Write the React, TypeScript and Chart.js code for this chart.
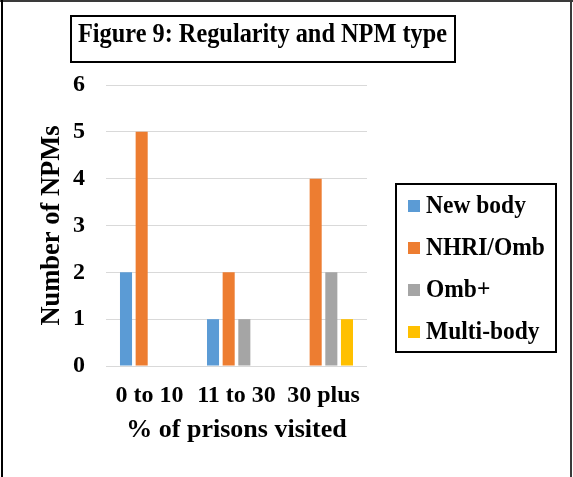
import React, { useEffect, useRef } from "react";
import { Chart, registerables } from "chart.js";

Chart.register(...registerables);

const categories = ["0 to 10", "11 to 30", "30 plus"];
const seriesNames = ["New body", "NHRI/Omb", "Omb+", "Multi-body"];
const newBody = [2, 1, null];
const nhriOmb = [5, 2, 4];
const ombPlus = [null, 1, 2];
const multiBody = [null, null, 1];
const seriesColors = ["#5B9BD5", "#ED7D31", "#A5A5A5", "#FFC000"];
const yTicks = [0, 1, 2, 3, 4, 5, 6];
const chartTitle = "Figure 9: Regularity and NPM type";
const xTitle = "% of prisons visited";
const yTitle = "Number of NPMs";

const FONT = "'Times New Roman', 'Liberation Serif', serif";

const framePlugin = {
  id: "framePlugin",
  afterDraw(chart: any) {
    const ctx = chart.ctx;
    ctx.save();
    // outer frame
    ctx.strokeStyle = "#3a3a3a";
    ctx.lineWidth = 2;
    ctx.beginPath();
    ctx.moveTo(0, 1);
    ctx.lineTo(573, 1);
    ctx.moveTo(571, 0);
    ctx.lineTo(571, 477);
    ctx.stroke();
    ctx.strokeStyle = "#000";
    ctx.beginPath();
    ctx.moveTo(2, 0);
    ctx.lineTo(2, 477);
    ctx.stroke();

    // title box
    ctx.strokeStyle = "#000";
    ctx.lineWidth = 2;
    ctx.strokeRect(71, 16, 384, 46);
    ctx.fillStyle = "#000";
    ctx.font = `bold 28px ${FONT}`;
    const w = ctx.measureText(chartTitle).width;
    ctx.translate(262.5, 35);
    ctx.scale(369 / w, 1);
    ctx.textAlign = "center";
    ctx.textBaseline = "middle";
    ctx.fillText(chartTitle, 0, 0);
    ctx.restore();

    // legend
    ctx.save();
    ctx.strokeStyle = "#000";
    ctx.lineWidth = 2;
    ctx.strokeRect(396, 184, 160, 168);
    ctx.font = `bold 23.5px ${FONT}`;
    ctx.textAlign = "left";
    ctx.textBaseline = "middle";
    chart.data.datasets.forEach((ds: any, i: number) => {
      const cy = 206 + i * 42;
      ctx.fillStyle = ds.backgroundColor;
      ctx.fillRect(408, cy - 6, 12, 12);
      ctx.fillStyle = "#000";
      ctx.save();
      ctx.translate(426, cy);
      ctx.scale(1, 1.08);
      ctx.fillText(ds.label, 0, 0);
      ctx.restore();
    });
    ctx.restore();
  },
};

export default function App() {
  const ref = useRef<HTMLCanvasElement>(null);
  useEffect(() => {
    document.body.style.margin = "0";
    const values = [newBody, nhriOmb, ombPlus, multiBody];
    const chart = new Chart(ref.current as HTMLCanvasElement, {
      type: "bar",
      data: {
        labels: categories,
        datasets: seriesNames.map((name, i) => ({
          label: name,
          data: values[i],
          backgroundColor: seriesColors[i],
          borderWidth: 0,
          categoryPercentage: 0.72,
          barPercentage: 0.77,
        })),
      },
      options: {
        responsive: false,
        animation: false,
        devicePixelRatio: 1,
        layout: { padding: { left: 36, top: 85, right: 206, bottom: 31 } },
        plugins: { legend: { display: false }, title: { display: false }, tooltip: { enabled: false } },
        scales: {
          x: {
            grid: { display: false, drawTicks: false },
            border: { display: false },
            ticks: { color: "#000", font: { family: FONT, size: 24, weight: "bold" }, padding: 15, maxRotation: 0 },
            title: { display: true, text: xTitle, color: "#000", font: { family: FONT, size: 26, weight: "bold" }, padding: 0 },
            afterFit: (s: any) => { s.height = 80; },
          },
          y: {
            min: 0,
            max: 6,
            afterBuildTicks: (s: any) => { s.ticks = yTicks.map((v) => ({ value: v })); },
            grid: { color: "#D9D9D9", lineWidth: 1, drawTicks: false },
            border: { display: false },
            ticks: { color: "#000", font: { family: FONT, size: 24, weight: "bold" }, padding: 21 },
            title: { display: true, text: yTitle, color: "#000", font: { family: FONT, size: 26.5, weight: "bold" }, padding: 0 },
            afterFit: (s: any) => { s.width = 70; },
          },
        },
      },
      plugins: [framePlugin],
    });
    return () => chart.destroy();
  }, []);
  return (
    <div style={{ position: "fixed", left: 0, top: 0, width: 573, height: 477, background: "#fff" }}>
      <canvas ref={ref} width={573} height={477} />
    </div>
  );
}
